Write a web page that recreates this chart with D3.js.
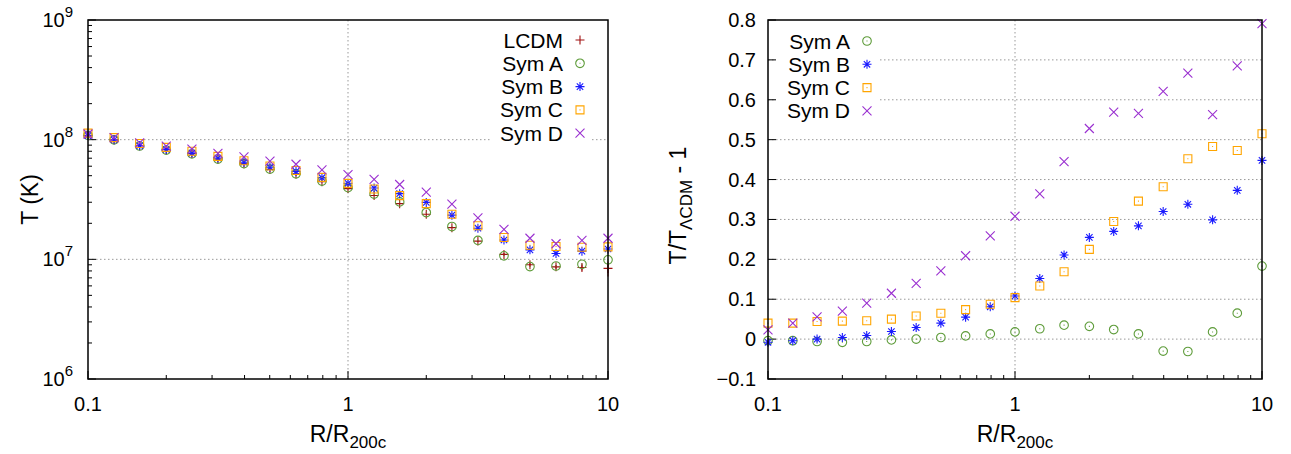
<!DOCTYPE html>
<html lang="en">
<head>
<meta charset="utf-8">
<script src="https://d3js.org/d3.v7.min.js"></script>
<style>
body { margin: 0; background: #fff; }
text { font-family: "Liberation Sans", Arial, sans-serif; fill: #000; }
</style>
</head>
<body>
<div id="canvas"></div>
<script>
// radius bins, R/R200c
var radius = [0.1, 0.126, 0.158, 0.2, 0.251, 0.316, 0.398, 0.501, 0.631, 0.794, 1.0,
              1.26, 1.58, 2.0, 2.51, 3.16, 3.98, 5.01, 6.31, 7.94, 10.0];

// temperature profiles, in units of 1e7 K
var tLCDM = [10.9, 10.0, 8.9, 8.25, 7.65, 6.9, 6.3, 5.65, 5.15, 4.45, 3.9,
             3.42, 2.92, 2.38, 1.84, 1.42, 1.10, 0.90, 0.865, 0.855, 0.84];
var errLCDM = [0, 0, 0, 0, 0, 0, 0, 0, 0, 0, 0,
               0, 0, 0, 0, 0.02, 0.03, 0.03, 0.03, 0.05, 0.12];
var tSymA = [10.86, 9.96, 8.85, 8.18, 7.60, 6.89, 6.30, 5.67, 5.19, 4.51, 3.97,
             3.51, 3.02, 2.46, 1.88, 1.44, 1.07, 0.87, 0.88, 0.91, 0.99];
var tSymB = [10.81, 9.96, 8.90, 8.28, 7.72, 7.03, 6.48, 5.88, 5.43, 4.81, 4.32,
             3.94, 3.54, 2.99, 2.34, 1.82, 1.45, 1.20, 1.12, 1.17, 1.22];
var tSymC = [11.34, 10.4, 9.29, 8.62, 8.0, 7.25, 6.67, 6.02, 5.53, 4.84, 4.31,
             3.87, 3.41, 2.92, 2.38, 1.91, 1.52, 1.31, 1.28, 1.26, 1.27];
var tSymD = [11.15, 10.4, 9.40, 8.83, 8.34, 7.69, 7.18, 6.62, 6.23, 5.60, 5.10,
             4.66, 4.22, 3.64, 2.89, 2.22, 1.78, 1.50, 1.35, 1.44, 1.50];

// relative difference T/T_LCDM - 1
var dSymA = [-0.004, -0.004, -0.006, -0.008, -0.006, -0.002, 0.0, 0.004, 0.008, 0.013, 0.018,
             0.026, 0.035, 0.032, 0.024, 0.013, -0.030, -0.031, 0.018, 0.065, 0.183];
var dSymB = [-0.008, -0.004, 0.0, 0.004, 0.009, 0.019, 0.029, 0.040, 0.055, 0.081, 0.108,
             0.152, 0.211, 0.255, 0.270, 0.284, 0.320, 0.338, 0.299, 0.373, 0.448];
var dSymC = [0.040, 0.040, 0.044, 0.045, 0.046, 0.050, 0.058, 0.065, 0.074, 0.0875, 0.104,
             0.133, 0.169, 0.225, 0.295, 0.346, 0.382, 0.452, 0.483, 0.473, 0.515];
var dSymD = [0.023, 0.040, 0.056, 0.070, 0.090, 0.115, 0.140, 0.171, 0.209, 0.259, 0.308,
             0.364, 0.445, 0.528, 0.569, 0.566, 0.621, 0.667, 0.563, 0.685, 0.791];

var xTicks = [0.1, 1, 10];
var xTickLabels = ["0.1", "1", "10"];
var tTicks = [1e6, 1e7, 1e8, 1e9];
var tTickExp = ["6", "7", "8", "9"];
var dTicks = [-0.1, 0, 0.1, 0.2, 0.3, 0.4, 0.5, 0.6, 0.7, 0.8];

var names = ["LCDM", "Sym A", "Sym B", "Sym C", "Sym D"];
var colors = ["#a01010", "#5e9c3a", "#1a1aff", "#ffa500", "#9a30d0"];
var shapes = ["plus", "circle", "star", "square", "cross"];

var tickFont = "20px", supFont = "15px", labFont = "23px", subFont = "17px", legFont = "21px";

function markerPath(shape) {
	var s = 4.5;
	if (shape == "plus") return "M" + (-s) + ",0H" + s + "M0," + (-s) + "V" + s;
	if (shape == "cross") return "M" + (-s) + "," + (-s) + "L" + s + "," + s + "M" + (-s) + "," + s + "L" + s + "," + (-s);
	if (shape == "star") return "M" + (-s) + ",0H" + s + "M0," + (-s) + "V" + s +
		"M-3.2,-3.2L3.2,3.2M-3.2,3.2L3.2,-3.2";
	if (shape == "square") return "M-4,-4H4V4H-4Z M-0.5,0H0.5";
	if (shape == "circle") return "M4.3,0A4.3,4.3 0 1,1 -4.3,0A4.3,4.3 0 1,1 4.3,0Z M-0.5,0H0.5";
}

function drawMarker(g, shape, color, x, y) {
	g.append("path")
		.attr("transform", "translate(" + x + "," + y + ")")
		.attr("d", markerPath(shape))
		.attr("fill", "none")
		.attr("stroke", color)
		.attr("stroke-width", 1.1);
}

var svg = d3.select("#canvas").append("svg")
	.attr("width", 1291)
	.attr("height", 454);

function logMinors(lo, hi) {
	var out = [];
	for (var e = Math.log10(lo); e < Math.log10(hi); e++) {
		for (var m = 2; m <= 9; m++) out.push(m * Math.pow(10, e));
	}
	return out;
}

function panelGrid(x, top, bottom) {
	// dotted grid
	var grid = svg.append("g").attr("stroke", "#999").attr("stroke-width", 1).attr("stroke-dasharray", "1.5,2.5");
	grid.append("line").attr("x1", x(1)).attr("x2", x(1)).attr("y1", top).attr("y2", bottom);
	return grid;
}

function xAxis(x, top, bottom) {
	var g = svg.append("g");
	xTicks.forEach(function(t) {
		g.append("line").attr("x1", x(t)).attr("x2", x(t)).attr("y1", bottom).attr("y2", bottom - 8).attr("stroke", "#000");
	});
	logMinors(0.1, 10).forEach(function(t) {
		g.append("line").attr("x1", x(t)).attr("x2", x(t)).attr("y1", bottom).attr("y2", bottom - 4).attr("stroke", "#000");
	});
	xTicks.forEach(function(t, i) {
		g.append("text").attr("x", x(t)).attr("y", bottom + 32)
			.attr("text-anchor", "middle").style("font-size", tickFont).text(xTickLabels[i]);
	});
	var lab = g.append("text").attr("x", (x(0.1) + x(10)) / 2).attr("y", bottom + 63)
		.attr("text-anchor", "middle").style("font-size", labFont);
	lab.append("tspan").text("R/R");
	lab.append("tspan").attr("dy", 6).style("font-size", subFont).text("200c");
}

// ---------- left panel ----------
var L = {left: 88, right: 608, top: 20, bottom: 379};
var xL = d3.scaleLog().domain([0.1, 10]).range([L.left, L.right]);
var yL = d3.scaleLog().domain([1e6, 1e9]).range([L.bottom, L.top]);

var gridL = panelGrid(xL, L.top, L.bottom);
[1e7, 1e8].forEach(function(t) {
	gridL.append("line").attr("x1", L.left).attr("x2", L.right).attr("y1", yL(t)).attr("y2", yL(t));
});

var axL = svg.append("g");
tTicks.forEach(function(t, i) {
	axL.append("line").attr("x1", L.left).attr("x2", L.left + 8).attr("y1", yL(t)).attr("y2", yL(t)).attr("stroke", "#000");
	var tx = axL.append("text").attr("x", 73).attr("y", yL(t) + 7)
		.attr("text-anchor", "end").style("font-size", tickFont);
	tx.append("tspan").text("10");
	tx.append("tspan").attr("dy", -10).style("font-size", supFont).text(tTickExp[i]);
});
logMinors(1e6, 1e9).forEach(function(t) {
	axL.append("line").attr("x1", L.left).attr("x2", L.left + 4).attr("y1", yL(t)).attr("y2", yL(t)).attr("stroke", "#000");
});
xAxis(xL, L.top, L.bottom);
svg.append("text").attr("transform", "translate(38," + ((L.top + L.bottom) / 2) + ") rotate(-90)")
	.attr("text-anchor", "middle").style("font-size", labFont).text("T (K)");

// legend background hides grid
svg.append("rect").attr("x", 492).attr("y", 26).attr("width", 100).attr("height", 120).attr("fill", "#fff");

var seriesL = [tLCDM, tSymA, tSymB, tSymC, tSymD];
var ptsL = svg.append("g");
// LCDM error bars
radius.forEach(function(r, i) {
	if (errLCDM[i] > 0) {
		ptsL.append("line").attr("x1", xL(r)).attr("x2", xL(r))
			.attr("y1", yL((tLCDM[i] - errLCDM[i]) * 1e7)).attr("y2", yL((tLCDM[i] + errLCDM[i]) * 1e7))
			.attr("stroke", colors[0]).attr("stroke-width", 1.1);
	}
});
seriesL.forEach(function(s, k) {
	radius.forEach(function(r, i) {
		drawMarker(ptsL, shapes[k], colors[k], xL(r), yL(s[i] * 1e7));
	});
});

names.forEach(function(n, k) {
	var yy = 40 + k * 23.3;
	svg.append("text").attr("x", 563).attr("y", yy + 7.5).attr("text-anchor", "end")
		.style("font-size", legFont).text(n);
	drawMarker(svg, shapes[k], colors[k], 580, yy);
});

// frame
svg.append("rect").attr("x", L.left).attr("y", L.top).attr("width", L.right - L.left).attr("height", L.bottom - L.top)
	.attr("fill", "none").attr("stroke", "#000").attr("stroke-width", 1.5);

// ---------- right panel ----------
var R = {left: 768, right: 1262, top: 20, bottom: 379};
var xR = d3.scaleLog().domain([0.1, 10]).range([R.left, R.right]);
var yR = d3.scaleLinear().domain([-0.1, 0.8]).range([R.bottom, R.top]);

var gridR = panelGrid(xR, R.top, R.bottom);
dTicks.forEach(function(t) {
	if (t > -0.1 && t < 0.8) {
		gridR.append("line").attr("x1", R.left).attr("x2", R.right).attr("y1", yR(t)).attr("y2", yR(t));
	}
});

var axR = svg.append("g");
dTicks.forEach(function(t) {
	axR.append("line").attr("x1", R.left).attr("x2", R.left + 8).attr("y1", yR(t)).attr("y2", yR(t)).attr("stroke", "#000");
	axR.append("text").attr("x", 756).attr("y", yR(t) + 7)
		.attr("text-anchor", "end").style("font-size", tickFont).text(d3.format("")(Math.round(t * 10) / 10));
});
xAxis(xR, R.top, R.bottom);
var ylab = svg.append("text").attr("transform", "translate(686," + ((R.top + R.bottom) / 2 + 6) + ") rotate(-90)")
	.attr("text-anchor", "middle").style("font-size", labFont);
ylab.append("tspan").text("T/T");
ylab.append("tspan").attr("dy", 6).style("font-size", subFont).text("ΛCDM");
ylab.append("tspan").attr("dy", -6).text(" - 1");

svg.append("rect").attr("x", 776).attr("y", 27).attr("width", 102).attr("height", 96).attr("fill", "#fff");

var seriesR = [dSymA, dSymB, dSymC, dSymD];
var ptsR = svg.append("g");
seriesR.forEach(function(s, k) {
	radius.forEach(function(r, i) {
		drawMarker(ptsR, shapes[k + 1], colors[k + 1], xR(r), yR(s[i]));
	});
});

names.slice(1).forEach(function(n, k) {
	var yy = 41 + k * 23.3;
	svg.append("text").attr("x", 850).attr("y", yy + 7.5).attr("text-anchor", "end")
		.style("font-size", legFont).text(n);
	drawMarker(svg, shapes[k + 1], colors[k + 1], 867, yy);
});

svg.append("rect").attr("x", R.left).attr("y", R.top).attr("width", R.right - R.left).attr("height", R.bottom - R.top)
	.attr("fill", "none").attr("stroke", "#000").attr("stroke-width", 1.5);
</script>
</body>
</html>
